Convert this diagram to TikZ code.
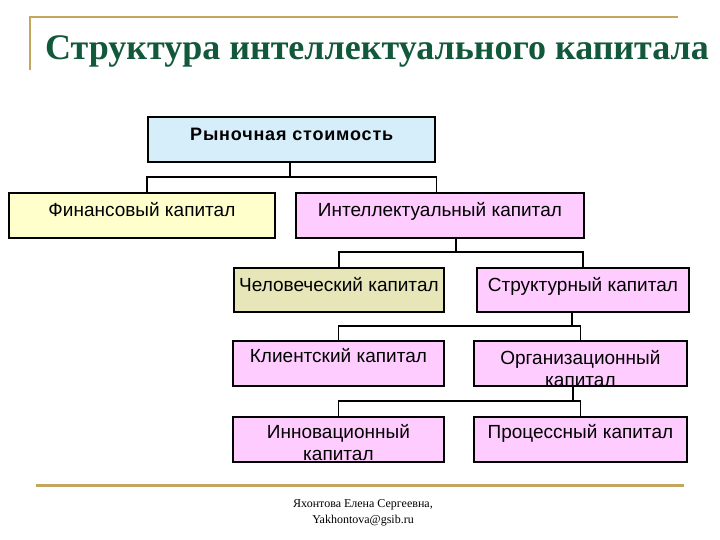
\documentclass[tikz,border=0pt]{standalone}
\usepackage{fontspec}
\setmainfont{Liberation Sans}
\newfontfamily\titlefont{Liberation Serif}
\newfontfamily\boldspaced[LetterSpace=4.5]{Liberation Sans Bold}
\usetikzlibrary{calc}
\definecolor{gold}{RGB}{196,166,96}
\definecolor{titlegreen}{RGB}{18,88,58}
\definecolor{fillblue}{RGB}{214,238,250}
\definecolor{fillyellow}{RGB}{255,255,204}
\definecolor{fillpink}{RGB}{255,204,255}
\definecolor{fillolive}{RGB}{230,230,184}
\begin{document}
\begin{tikzpicture}[x=1pt,y=-1pt,
  box/.style={draw=black, line width=1.8pt, anchor=north west, inner xsep=0pt, inner ysep=0pt,
    font=\fontsize{19}{21.5}\selectfont, text height=22pt, text depth=23pt},
  link/.style={draw=black, line width=1.5pt},
  decor/.style={draw=gold, line width=2pt}]
\useasboundingbox (0,0) rectangle (720,540);
% decorative lines
\draw[decor] (30,70) -- (30,17) -- (678,17);
\draw[decor, line width=3pt] (36,485) -- (684,485);
% title
\node[anchor=base west, inner sep=0pt, text=titlegreen,
  font=\titlefont\bfseries\fontsize{36}{36}\selectfont] (title) at (45,60)
  {Структура интеллектуального капитала};
% boxes
\node[box, fill=fillblue, line width=2.4pt, minimum width=287pt, text height=23pt, text depth=22pt, font=\boldspaced\fontsize{18}{21}\selectfont] (ryn) at (147,116) {Рыночная стоимость};
\node[box, fill=fillyellow, minimum width=266pt, text height=24pt, text depth=21pt] (fin) at (8,192) {Финансовый капитал};
\node[box, fill=fillpink, minimum width=288pt, text height=24pt, text depth=21pt] (intel) at (295,192) {Интеллектуальный капитал};
\node[box, fill=fillolive, minimum width=210pt, text height=24pt, text depth=20pt] (hum) at (233,267) {Человеческий капитал};
\node[box, fill=fillpink, minimum width=212pt, text height=24pt, text depth=20pt] (str) at (476,267) {Структурный капитал};
\node[box, fill=fillpink, minimum width=211pt, text height=22pt, text depth=23pt] (cli) at (232,340) {Клиентский капитал};
\node[box, fill=fillpink, minimum width=213pt, text height=24pt, text depth=21pt] (org) at (473,340)
  {\begin{tabular}[t]{@{}c@{}}Организационный\\капитал\end{tabular}};
\node[box, fill=fillpink, minimum width=211pt, text height=22pt, text depth=23pt] (inn) at (232,416)
  {\begin{tabular}[t]{@{}c@{}}Инновационный\\капитал\end{tabular}};
\node[box, fill=fillpink, minimum width=213pt, text height=22pt, text depth=23pt] (proc) at (473,416) {Процессный капитал};
% footer
\node[font=\titlefont\fontsize{12}{16}\selectfont, align=center, anchor=base, inner sep=0pt] (foot) at (363,523)
  {Яхонтова Елена Сергеевна,\\Yakhontova@gsib.ru};
% connectors
\coordinate (j1) at (290,177);
\draw[link] (ryn.south -| j1) -- (j1);
\draw[link] (fin.north -| ryn.south west) |- (j1) -| (intel.north -| ryn.south east);
\coordinate (j2) at (456,252);
\draw[link] (intel.south -| j2) -- (j2);
\draw[link] (hum.north) |- (j2) -| (str.north);
\coordinate (j3) at (572,326);
\draw[link] (str.south -| j3) -- (j3);
\draw[link] (cli.north) |- (j3) -| (org.north);
\coordinate (j4) at (573,401);
\draw[link] (org.south -| j4) -- (j4);
\draw[link] (inn.north) |- (j4) -| (proc.north);
\end{tikzpicture}
\end{document}
